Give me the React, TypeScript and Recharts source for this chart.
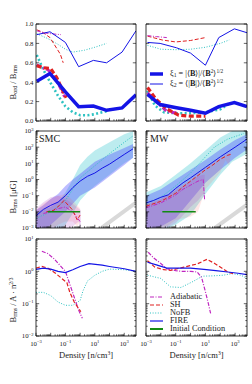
import React from "react";
import { ComposedChart, Line, Area, XAxis, YAxis } from "recharts";

const FONT = "'Liberation Serif', 'Times New Roman', serif";
const BLUE = "#1414e6";
const CYAN = "#2ec2c2";
const RED = "#e02020";
const MAGENTA = "#c026c0";
const GREEN = "#138a13";
const GREY = "#d9d9d9";

// ---- density grid (log10 n) and panel values ----

// B_ord / B_rms, SMC
const SMC_FIRE_X = [-2.95, -2.05, -1.0, -0.1, 0.9, 1.8, 2.85, 3.8];
const SMC_FIRE_XI1 = [0.41, 0.49, 0.3, 0.148, 0.155, 0.11, 0.135, 0.27];
const SMC_FIRE_XI2 = [0.89, 0.92, 0.81, 0.56, 0.625, 0.6, 0.71, 0.93];
const SMC_NOFB_XI1_X = [-2.95, -2.5, -2.0, -1.5, -1.0, -0.5, 0.0, 0.5, 1.0, 1.5, 1.8];
const SMC_NOFB_XI1 = [0.68, 0.53, 0.39, 0.26, 0.15, 0.09, 0.06, 0.06, 0.07, 0.09, 0.1];
const SMC_NOFB_XI2_X = [-2.95, -2.2, -1.5, -1.0, -0.5, 0.3, 1.0, 1.8];
const SMC_NOFB_XI2 = [0.9, 0.85, 0.79, 0.74, 0.71, 0.73, 0.76, 0.8];
const SMC_SH_XI1_X = [-2.95, -2.5, -2.0, -1.6, -1.2, -0.95];
const SMC_SH_XI1 = [0.57, 0.55, 0.54, 0.45, 0.32, 0.24];
const SMC_SH_XI2_X = [-2.95, -2.6, -2.05, -1.35, -1.15];
const SMC_SH_XI2 = [0.94, 0.92, 0.86, 0.69, 0.6];
const SMC_ADI_XI1_X = [-2.95, -2.6, -2.2, -1.7, -1.3, -1.05];
const SMC_ADI_XI1 = [0.58, 0.55, 0.53, 0.45, 0.33, 0.25];
const SMC_ADI_XI2_X = [-2.95, -2.5, -2.0, -1.3];
const SMC_ADI_XI2 = [0.93, 0.91, 0.9, 0.89];

// B_ord / B_rms, MW
const MW_FIRE_X = [-2.9, -2.05, -0.95, 0.0, 1.0, 1.9, 2.95, 3.8];
const MW_FIRE_XI1 = [0.275, 0.17, 0.137, 0.11, 0.08, 0.148, 0.19, 0.148];
const MW_FIRE_XI2 = [0.81, 0.8, 0.755, 0.7, 0.575, 0.86, 0.95, 0.91];
const MW_NOFB_XI1_X = [-2.9, -2.4, -1.8, -1.0, 0.0, 1.0, 2.0, 2.6];
const MW_NOFB_XI1 = [0.31, 0.16, 0.09, 0.08, 0.08, 0.09, 0.12, 0.18];
const MW_NOFB_XI2_X = [-2.9, -2.0, -1.0, 0.0, 1.0, 2.0, 2.6];
const MW_NOFB_XI2 = [0.78, 0.74, 0.735, 0.74, 0.76, 0.8, 0.835];
const MW_SH_XI1_X = [-2.9, -2.3, -1.6, -0.8, 0.0, 1.0];
const MW_SH_XI1 = [0.345, 0.22, 0.125, 0.06, 0.05, 0.05];
const MW_SH_XI2_X = [-2.9, -1.9, -1.0, 0.0, 1.0];
const MW_SH_XI2 = [0.875, 0.835, 0.815, 0.83, 0.86];
const MW_ADI_XI1_X = [-2.9, -2.3, -1.6, -0.9];
const MW_ADI_XI1 = [0.29, 0.2, 0.1, 0.08];
const MW_ADI_XI2_X = [-2.9, -2.3, -1.6];
const MW_ADI_XI2 = [0.88, 0.87, 0.86];

// B_rms [muG], log10 values, SMC
const SMC_FIRE_MED_X = [-3, -2.5, -2, -1.5, -1, -0.5, 0, 0.5, 1, 1.5, 2, 2.5, 3, 3.6];
const SMC_FIRE_MED = [-2.25, -1.85, -1.6, -1.4, -1.0, -0.5, -0.1, 0.2, 0.4, 0.7, 0.95, 1.25, 1.55, 1.9];
const SMC_NOFB_MED_X = [-3, -2, -1, 0, 1, 2, 3, 3.6];
const SMC_NOFB_MED = [-2.4, -2.0, -1.3, 0.1, 0.85, 1.6, 2.3, 2.7];
const SMC_SH_MED_X = [-2.3, -1.8, -1.4, -1.1, -0.8, -0.5, -0.2, 0];
const SMC_SH_MED = [-2.0, -1.9, -1.6, -1.3, -1.6, -1.9, -2.5, -2.2];
const SMC_ADI_MED_X = [-2.5, -2, -1.5, -1, -0.5, 0];
const SMC_ADI_MED = [-2.1, -2.0, -1.8, -1.7, -2.0, -2.6];
const SMC_NOFB_BAND_X = [-3, -2, -1.5, -1, -0.5, 0, 0.5, 1, 2, 3, 3.6];
const SMC_NOFB_LO = [-3.2, -3.2, -3.2, -2.8, -2.1, -1.3, -0.8, -0.4, 0.3, 1.0, 1.35];
const SMC_NOFB_HI = [-2.0, -1.7, -1.4, -0.8, 0.0, 0.9, 1.4, 1.8, 2.3, 2.8, 3.0];
const SMC_FIRE_BAND_X = [-3, -2.5, -2, -1.5, -1, -0.5, 0, 1, 2, 3, 3.6];
const SMC_FIRE_LO = [-3.2, -3.2, -2.8, -2.4, -2.0, -1.5, -1.0, -0.5, 0.2, 0.9, 1.35];
const SMC_FIRE_HI = [-1.9, -1.6, -1.2, -0.9, -0.4, 0.0, 0.35, 1.1, 1.55, 1.95, 2.2];
const SMC_SH_BAND_X = [-3, -2.5, -2, -1.5, -1, -0.5, -0.2, 0];
const SMC_SH_LO = [-3.2, -3.2, -3.2, -2.8, -2.6, -2.6, -2.9, -2.6];
const SMC_SH_HI = [-1.9, -1.5, -1.2, -1.0, -0.9, -1.3, -1.6, -1.8];
const SMC_ADI_BAND_X = [-3, -2.5, -2, -1.5, -1, -0.5, -0.1, 0.05];
const SMC_ADI_LO = [-3.2, -3.2, -3.2, -3.2, -3.2, -2.9, -2.6, -3.2];
const SMC_ADI_HI = [-1.8, -1.4, -1.1, -1.0, -1.2, -1.5, -1.8, -1.9];
const SMC_IC_X = [-2.2, 0];
const SMC_IC = [-2, -2];
const SMC_SCALING_X = [1.0, 3.8];
const SMC_SCALING = [-3.3, -1.43];

// B_rms [muG], log10 values, MW
const MW_FIRE_MED_X = [-3, -2.5, -2, -1.5, -1, -0.5, 0, 1, 2, 3, 3.8];
const MW_FIRE_MED = [-1.45, -1.3, -1.1, -0.95, -0.55, -0.2, 0.1, 0.75, 1.4, 2.0, 2.5];
const MW_NOFB_MED_X = [-3, -2, -1, 0, 1, 1.6, 2.5, 3.6];
const MW_NOFB_MED = [-1.5, -1.1, -0.4, 0.4, 1.4, 2.0, 2.5, 2.85];
const MW_SH_MED_X = [-3, -2, -1.5, -1, -0.5, 0, 0.5, 1, 1.5, 2, 2.5, 2.7];
const MW_SH_MED = [-1.65, -1.35, -1.1, -0.85, -0.45, -0.1, 0.25, 0.6, 0.9, 1.25, 1.5, 1.55];
const MW_ADI_MED_X = [-3, -2, -1, -0.5, 0, 0.5, 0.85, 0.95];
const MW_ADI_MED = [-1.75, -1.45, -0.95, -0.6, -0.35, -0.1, 0.0, -1.3];
const MW_NOFB_BAND_X = [-3, -2, -1, 0, 1, 2, 2.8, 3.8];
const MW_NOFB_LO = [-3.2, -3.2, -2.8, -2.2, -0.9, 0.3, 1.1, 1.6];
const MW_NOFB_HI = [-0.8, -0.4, 0.3, 1.0, 1.8, 2.6, 3.0, 3.0];
const MW_FIRE_BAND_X = [-3, -2, -1, 0, 1, 2, 3, 3.8];
const MW_FIRE_LO = [-3.2, -2.9, -2.4, -1.3, -0.2, 0.6, 1.35, 1.85];
const MW_FIRE_HI = [-1.0, -0.6, 0.0, 0.6, 1.2, 1.85, 2.45, 2.8];
const MW_SH_BAND_X = [-3, -2, -1, 0, 0.5, 1, 1.5, 2, 2.35, 2.6, 2.7];
const MW_SH_LO = [-3.2, -3.2, -2.5, -2.3, -2.0, -0.6, -0.1, 0.45, 1.2, 0.85, 1.5];
const MW_SH_HI = [-1.5, -1.2, -0.6, 0.0, 0.4, 0.75, 1.05, 1.35, 1.55, 1.65, 1.7];
const MW_ADI_BAND_X = [-3, -2, -1, 0, 0.5, 0.85, 0.95];
const MW_ADI_LO = [-3.2, -3.2, -2.7, -1.7, -1.3, -0.9, -1.35];
const MW_ADI_HI = [-1.6, -1.2, -0.7, -0.1, 0.2, 0.3, 0.3];
const MW_IC_X = [-1.9, 0.35];
const MW_IC = [-2, -2];
const MW_SCALING_X = [1.2, 3.8];
const MW_SCALING = [-3.29, -1.56];

// B_rms / A n^(2/3), log10 values, SMC
const SMC_FIRE_NORM_X = [-3, -2.5, -2, -1.5, -1, -0.5, 0, 0.6, 1.5, 2, 3, 3.8];
const SMC_FIRE_NORM = [0.06, 0.1, 0.07, 0.0, -0.04, 0.05, 0.15, 0.24, 0.19, 0.15, 0.08, 0.0];
const SMC_NOFB_NORM_X = [-3, -2.5, -2, -1.5, -1, -0.5, 0, 0.2, 0.5, 1, 1.5, 2, 3, 3.8];
const SMC_NOFB_NORM = [-0.65, -0.65, -0.75, -0.95, -1.05, -1.05, -0.9, -0.6, -0.3, -0.12, 0.0, 0.07, 0.05, 0.0];
const SMC_SH_NORM_X = [-3, -2.6, -2.2, -1.7, -1.3, -0.9, -0.7, -0.4, -0.1, 0.05];
const SMC_SH_NORM = [0.1, 0.15, 0.1, -0.05, -0.2, -0.35, -0.65, -0.95, -1.15, -1.25];
const SMC_ADI_NORM_X = [-2.6, -2.2, -1.8, -1.4, -1.0, -0.7, -0.4, -0.1, 0.15];
const SMC_ADI_NORM = [0.62, 0.55, 0.4, 0.2, 0.0, -0.4, -0.8, -1.2, -1.45];

// B_rms / A n^(2/3), log10 values, MW
const MW_FIRE_NORM_X = [-2.9, -2.3, -1.6, -0.8, 0.0, 0.9, 1.7, 2.5, 3.2, 3.8];
const MW_FIRE_NORM = [0.28, 0.2, 0.1, 0.1, 0.1, 0.06, 0.02, -0.02, -0.06, -0.1];
const MW_NOFB_NORM_X = [-2.9, -2.0, -1.35, -0.65, 0.1, 0.8, 1.5, 2.2, 2.8, 3.4, 3.8];
const MW_NOFB_NORM = [-0.12, -0.22, -0.48, -0.5, -0.33, -0.15, -0.14, -0.12, -0.07, -0.12, -0.22];
const MW_SH_NORM_X = [-2.9, -2.4, -1.8, -1.35, -0.9, -0.45, 0.0, 0.45, 1.1, 1.6, 2.1, 2.5, 2.85];
const MW_SH_NORM = [0.33, 0.13, 0.05, 0.03, 0.08, 0.13, 0.18, 0.23, 0.37, 0.25, 0.1, -0.02, -0.07];
const MW_ADI_NORM_X = [-2.85, -2.5, -2.1, -1.6, -1.0, -0.6, 0.0, 0.45, 0.75, 1.0, 1.2, 1.35];
const MW_ADI_NORM = [0.59, 0.42, 0.28, 0.08, 0.02, 0.0, 0.0, -0.02, -0.2, -0.63, -1.0, -1.3];

const RATIO_TICKS = [0, 0.2, 0.4, 0.6, 0.8, 1.0];

// ---- helpers ----

type Pt = { n: number; v: number | number[] };

// x given as log10 density, y linear
const linPts = (xs: number[], ys: number[]): Pt[] => xs.map((e, i) => ({ n: 10 ** e, v: ys[i] }));
// x and y both given as log10
const logPts = (xs: number[], ys: number[]): Pt[] => xs.map((e, i) => ({ n: 10 ** e, v: 10 ** ys[i] }));
const bandPts = (xs: number[], lo: number[], hi: number[]): Pt[] =>
  xs.map((e, i) => ({ n: 10 ** e, v: [10 ** lo[i], 10 ** hi[i]] }));

function logTicks(a: number, b: number, max: number) {
  const out: number[] = [];
  for (let e = a; e <= b; e++) {
    out.push(10 ** e);
    for (let k = 2; k <= 9; k++) if (k * 10 ** e <= max * 1.0001) out.push(k * 10 ** e);
  }
  return out;
}

const X_DOMAIN: [number, number] = [1e-3, 10 ** 3.8];
const X_TICKS = logTicks(-3, 3, 10 ** 3.8);
const X_LABELS = [-3, -1, 1, 3];

type Side = "left" | "right" | "top" | "bottom";

const supText = (e: number) => (e < 0 ? "\u2212" + -e : String(e));

const tickFor = (side: Side, log: boolean, labels: number[] | null) => (p: any) => {
  const { x, y, payload } = p;
  const v: number = payload.value;
  const e = log ? Math.log10(v) : v;
  const major = !log || Math.abs(e - Math.round(e)) < 1e-6;
  const len = major ? 3.2 : 1.7;
  let x2 = x;
  let y2 = y;
  if (side === "left") x2 = x + len;
  else if (side === "right") x2 = x - len;
  else if (side === "bottom") y2 = y - len;
  else y2 = y + len;
  const exp = Math.round(e);
  const show = labels != null && major && (!log || labels.includes(exp));
  let label = null;
  if (show && side === "left") {
    label = log ? (
      <text x={x - 2.5} y={y + 2.4} textAnchor="end" fontSize={6.8} fontFamily={FONT} fill="#222">
        10<tspan dy={-2.8} fontSize={4.6}>{supText(exp)}</tspan>
      </text>
    ) : (
      <text x={x - 2.5} y={y + 2.4} textAnchor="end" fontSize={6.8} fontFamily={FONT} fill="#222">
        {v.toFixed(1)}
      </text>
    );
  }
  if (show && side === "bottom") {
    label = (
      <text x={x} y={y + 9.5} textAnchor="middle" fontSize={6.8} fontFamily={FONT} fill="#222">
        10<tspan dy={-2.8} fontSize={4.6}>{supText(exp)}</tspan>
      </text>
    );
  }
  return (
    <g>
      <line x1={x} y1={y} x2={x2} y2={y2} stroke="#000" strokeWidth={0.6} />
      {label}
    </g>
  );
};

function curve(key: string, data: Pt[], stroke: string, width: number, dash?: string) {
  return (
    <Line
      key={key}
      data={data}
      dataKey="v"
      type="linear"
      stroke={stroke}
      strokeWidth={width}
      strokeDasharray={dash}
      dot={false}
      activeDot={false}
      isAnimationActive={false}
    />
  );
}

function shade(key: string, data: Pt[], fill: string, opacity: number) {
  return (
    <Area
      key={key}
      data={data}
      dataKey="v"
      type="linear"
      stroke="none"
      fill={fill}
      fillOpacity={opacity}
      dot={false}
      activeDot={false}
      isAnimationActive={false}
    />
  );
}

interface PanelProps {
  left: number;
  top: number;
  w: number;
  h: number;
  yLog: boolean;
  yDomain: [number, number];
  yTicks: number[];
  yLabels: number[] | null;
  xLabels: boolean;
  children: React.ReactNode;
}

// one framed axes box; (left, top) is the plot area corner on the page
function Panel({ left, top, w, h, yLog, yDomain, yTicks, yLabels, xLabels, children }: PanelProps) {
  const L = yLabels ? 36 : 12;
  const T = 4;
  const R = 6;
  const B = xLabels ? 14 : 4;
  const frame = { stroke: "#000", strokeWidth: 0.8 };
  const common = {
    type: "number" as const,
    allowDataOverflow: true,
    tickSize: 0,
    tickMargin: 0,
    interval: 0 as const,
    tickLine: false,
    axisLine: frame,
  };
  return (
    <div style={{ position: "absolute", left: left - L, top: top - T }}>
      <ComposedChart width={L + w + R} height={T + h + B} margin={{ top: T - 1, right: R - 1, bottom: 0, left: 0 }}>
        <XAxis {...common} dataKey="n" scale="log" domain={X_DOMAIN} ticks={X_TICKS} height={B}
          tick={tickFor("bottom", true, xLabels ? X_LABELS : null)} />
        <XAxis {...common} xAxisId="top" orientation="top" scale="log" domain={X_DOMAIN} ticks={X_TICKS} height={1}
          tick={tickFor("top", true, null)} />
        <YAxis {...common} scale={yLog ? "log" : "linear"} domain={yDomain} ticks={yTicks} width={L}
          tick={tickFor("left", yLog, yLabels)} />
        <YAxis {...common} yAxisId="right" orientation="right" scale={yLog ? "log" : "linear"} domain={yDomain}
          ticks={yTicks} width={1} tick={tickFor("right", yLog, null)} />
        {children}
      </ComposedChart>
    </div>
  );
}

const THIN_DOT = "1 1.6";
const THICK_DOT = "2 2.4";
const THIN_DASH = "4 2";
const THICK_DASH = "5 2.5";
const THIN_DASHDOT = "4 1.5 1 1.5";
const THICK_DASHDOT = "5 2 1.5 2";

const B_TICKS = logTicks(-3, 3, 1e3);
const N_TICKS = logTicks(-2, 1, 10);

function LegendMark({ color, width, dash }: { color: string; width: number; dash?: string }) {
  return (
    <svg width={13} height={6} style={{ display: "block" }}>
      <line x1={0} y1={3} x2={13} y2={3} stroke={color} strokeWidth={width} strokeDasharray={dash} />
    </svg>
  );
}

const abs = (l: number, t: number): React.CSSProperties => ({ position: "absolute", left: l, top: t });

function YTitle({ x, y, children }: { x: number; y: number; children: React.ReactNode }) {
  return (
    <div style={{ ...abs(x, y), transform: "translate(-50%,-50%) rotate(-90deg)", whiteSpace: "nowrap", fontSize: 8.5 }}>
      {children}
    </div>
  );
}

const sub: React.CSSProperties = { fontSize: "70%", verticalAlign: "-0.25em", lineHeight: 0 };
const sup: React.CSSProperties = { fontSize: "65%", verticalAlign: "0.5em", lineHeight: 0 };

export default function App() {
  const leftX = 36;
  const rightX = 146;
  const rowY = [24, 131, 239];
  const W_L = 100;
  const W_R = 101;
  const H = 97;

  const legendRows: [string, string, number, string | undefined][] = [
    ["Adiabatic", MAGENTA, 1.2, THIN_DASHDOT],
    ["SH", RED, 1.2, THIN_DASH],
    ["NoFB", CYAN, 1.2, THIN_DOT],
    ["FIRE", BLUE, 1.2, undefined],
    ["Initial Condition", GREEN, 2, undefined],
  ];

  return (
    <div style={{ position: "absolute", left: 0, top: 0, width: 252, height: 384, background: "#fff", overflow: "hidden", fontFamily: FONT, color: "#222" }}>
      {/* row 1: ordered / rms field ratio */}
      <Panel left={leftX} top={rowY[0]} w={W_L} h={H} yLog={false} yDomain={[0, 1]} yTicks={RATIO_TICKS} yLabels={[]} xLabels={false}>
        {curve("nofb2", linPts(SMC_NOFB_XI2_X, SMC_NOFB_XI2), CYAN, 1, THIN_DOT)}
        {curve("sh2", linPts(SMC_SH_XI2_X, SMC_SH_XI2), RED, 1, THIN_DASH)}
        {curve("adi2", linPts(SMC_ADI_XI2_X, SMC_ADI_XI2), MAGENTA, 1, THIN_DASHDOT)}
        {curve("fire2", linPts(SMC_FIRE_X, SMC_FIRE_XI2), BLUE, 1)}
        {curve("nofb1", linPts(SMC_NOFB_XI1_X, SMC_NOFB_XI1), CYAN, 2.6, THICK_DOT)}
        {curve("adi1", linPts(SMC_ADI_XI1_X, SMC_ADI_XI1), MAGENTA, 3, THICK_DASHDOT)}
        {curve("sh1", linPts(SMC_SH_XI1_X, SMC_SH_XI1), RED, 3.2, THICK_DASH)}
        {curve("fire1", linPts(SMC_FIRE_X, SMC_FIRE_XI1), BLUE, 3.5)}
      </Panel>
      <Panel left={rightX} top={rowY[0]} w={W_R} h={H} yLog={false} yDomain={[0, 1]} yTicks={RATIO_TICKS} yLabels={null} xLabels={false}>
        {curve("nofb2", linPts(MW_NOFB_XI2_X, MW_NOFB_XI2), CYAN, 1, THIN_DOT)}
        {curve("sh2", linPts(MW_SH_XI2_X, MW_SH_XI2), RED, 1, THIN_DASH)}
        {curve("adi2", linPts(MW_ADI_XI2_X, MW_ADI_XI2), MAGENTA, 1, THIN_DASHDOT)}
        {curve("fire2", linPts(MW_FIRE_X, MW_FIRE_XI2), BLUE, 1)}
        {curve("nofb1", linPts(MW_NOFB_XI1_X, MW_NOFB_XI1), CYAN, 2.6, THICK_DOT)}
        {curve("adi1", linPts(MW_ADI_XI1_X, MW_ADI_XI1), MAGENTA, 3, THICK_DASHDOT)}
        {curve("sh1", linPts(MW_SH_XI1_X, MW_SH_XI1), RED, 3.2, THICK_DASH)}
        {curve("fire1", linPts(MW_FIRE_X, MW_FIRE_XI1), BLUE, 3.5)}
      </Panel>

      {/* row 2: rms field strength with 16-84% spread */}
      <Panel left={leftX} top={rowY[1]} w={W_L} h={H} yLog yDomain={[1e-3, 1e3]} yTicks={B_TICKS} yLabels={[-3, -2, -1, 0, 1, 2, 3]} xLabels={false}>
        {curve("scal", logPts(SMC_SCALING_X, SMC_SCALING), GREY, 4)}
        {shade("nofbB", bandPts(SMC_NOFB_BAND_X, SMC_NOFB_LO, SMC_NOFB_HI), "#40c8d0", 0.35)}
        {shade("fireB", bandPts(SMC_FIRE_BAND_X, SMC_FIRE_LO, SMC_FIRE_HI), "#4040ff", 0.35)}
        {shade("shB", bandPts(SMC_SH_BAND_X, SMC_SH_LO, SMC_SH_HI), "#ff6060", 0.15)}
        {shade("adiB", bandPts(SMC_ADI_BAND_X, SMC_ADI_LO, SMC_ADI_HI), "#b040c8", 0.2)}
        {curve("nofb", logPts(SMC_NOFB_MED_X, SMC_NOFB_MED), CYAN, 1, THIN_DOT)}
        {curve("adi", logPts(SMC_ADI_MED_X, SMC_ADI_MED), MAGENTA, 1, THIN_DASHDOT)}
        {curve("sh", logPts(SMC_SH_MED_X, SMC_SH_MED), RED, 1, THIN_DASH)}
        {curve("fire", logPts(SMC_FIRE_MED_X, SMC_FIRE_MED), BLUE, 1)}
        {curve("ic", logPts(SMC_IC_X, SMC_IC), GREEN, 1.5)}
      </Panel>
      <Panel left={rightX} top={rowY[1]} w={W_R} h={H} yLog yDomain={[1e-3, 1e3]} yTicks={B_TICKS} yLabels={null} xLabels={false}>
        {curve("scal", logPts(MW_SCALING_X, MW_SCALING), GREY, 4)}
        {shade("nofbB", bandPts(MW_NOFB_BAND_X, MW_NOFB_LO, MW_NOFB_HI), "#40c8d0", 0.35)}
        {shade("fireB", bandPts(MW_FIRE_BAND_X, MW_FIRE_LO, MW_FIRE_HI), "#4040ff", 0.35)}
        {shade("shB", bandPts(MW_SH_BAND_X, MW_SH_LO, MW_SH_HI), "#ff6060", 0.15)}
        {shade("adiB", bandPts(MW_ADI_BAND_X, MW_ADI_LO, MW_ADI_HI), "#b040c8", 0.2)}
        {curve("nofb", logPts(MW_NOFB_MED_X, MW_NOFB_MED), CYAN, 1, THIN_DOT)}
        {curve("adi", logPts(MW_ADI_MED_X, MW_ADI_MED), MAGENTA, 1, THIN_DASHDOT)}
        {curve("sh", logPts(MW_SH_MED_X, MW_SH_MED), RED, 1, THIN_DASH)}
        {curve("fire", logPts(MW_FIRE_MED_X, MW_FIRE_MED), BLUE, 1)}
        {curve("ic", logPts(MW_IC_X, MW_IC), GREEN, 1.5)}
      </Panel>

      {/* row 3: field normalised by n^(2/3) */}
      <Panel left={leftX} top={rowY[2]} w={W_L} h={H} yLog yDomain={[1e-2, 1e1]} yTicks={N_TICKS} yLabels={[-2, -1, 0, 1]} xLabels>
        {curve("nofb", logPts(SMC_NOFB_NORM_X, SMC_NOFB_NORM), CYAN, 1, THIN_DOT)}
        {curve("adi", logPts(SMC_ADI_NORM_X, SMC_ADI_NORM), MAGENTA, 1.2, THIN_DASHDOT)}
        {curve("sh", logPts(SMC_SH_NORM_X, SMC_SH_NORM), RED, 1.2, THIN_DASH)}
        {curve("fire", logPts(SMC_FIRE_NORM_X, SMC_FIRE_NORM), BLUE, 1.2)}
      </Panel>
      <Panel left={rightX} top={rowY[2]} w={W_R} h={H} yLog yDomain={[1e-2, 1e1]} yTicks={N_TICKS} yLabels={null} xLabels>
        {curve("nofb", logPts(MW_NOFB_NORM_X, MW_NOFB_NORM), CYAN, 1, THIN_DOT)}
        {curve("adi", logPts(MW_ADI_NORM_X, MW_ADI_NORM), MAGENTA, 1.2, THIN_DASHDOT)}
        {curve("sh", logPts(MW_SH_NORM_X, MW_SH_NORM), RED, 1.2, THIN_DASH)}
        {curve("fire", logPts(MW_FIRE_NORM_X, MW_FIRE_NORM), BLUE, 1.2)}
      </Panel>

      {/* axis titles */}
      <YTitle x={13} y={82}>
        B<span style={sub}>ord</span> / B<span style={sub}>rms</span>
      </YTitle>
      <YTitle x={13} y={197}>
        B<span style={sub}>rms</span> [μG]
      </YTitle>
      <YTitle x={13} y={300}>
        B<span style={sub}>rms</span> / A · n<span style={sup}>2/3</span>
      </YTitle>
      {[leftX + W_L / 2, rightX + W_R / 2].map((cx) => (
        <div key={cx} style={{ ...abs(cx, 350), transform: "translateX(-50%)", whiteSpace: "nowrap", fontSize: 8.5 }}>
          Density [n/cm<span style={sup}>3</span>]
        </div>
      ))}

      {/* panel names */}
      <div style={{ ...abs(39, 133), fontSize: 10 }}>SMC</div>
      <div style={{ ...abs(150, 133), fontSize: 10 }}>MW</div>

      {/* xi legend */}
      <div style={{ ...abs(150, 69), fontSize: 8.2, lineHeight: "10px" }}>
        <div style={{ display: "flex", alignItems: "center", gap: 7 }}>
          <LegendMark color={BLUE} width={3.5} />
          <span>
            ξ<span style={sub}>1</span> = |⟨<b>B</b>⟩|/⟨<b>B</b><span style={sup}>2</span>⟩<span style={sup}>1/2</span>
          </span>
        </div>
        <div style={{ display: "flex", alignItems: "center", gap: 7 }}>
          <LegendMark color={BLUE} width={1} />
          <span>
            ξ<span style={sub}>2</span> = ⟨|<b>B</b>|⟩/⟨<b>B</b><span style={sup}>2</span>⟩<span style={sup}>1/2</span>
          </span>
        </div>
      </div>

      {/* model legend */}
      <div style={{ ...abs(150, 293), fontSize: 8.3, lineHeight: "8.1px" }}>
        {legendRows.map(([name, color, width, dash]) => (
          <div key={name} style={{ display: "flex", alignItems: "center", gap: 7 }}>
            <LegendMark color={color} width={width} dash={dash} />
            <span>{name}</span>
          </div>
        ))}
      </div>
    </div>
  );
}
